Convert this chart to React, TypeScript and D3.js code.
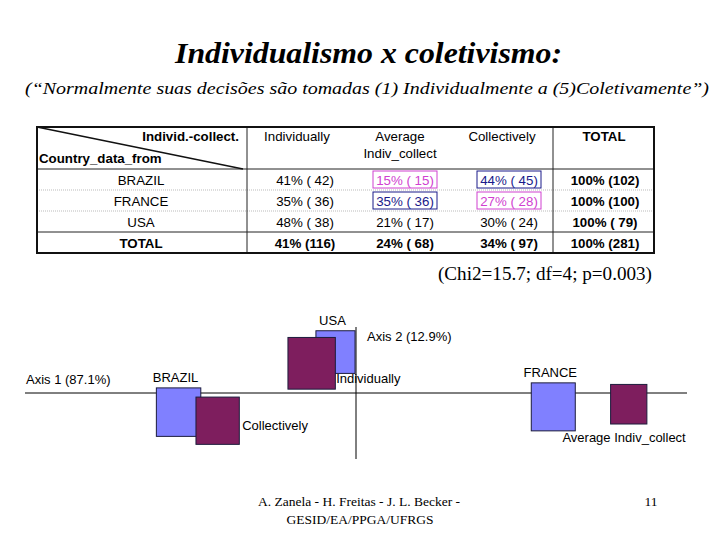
import React from "react";
import * as d3 from "d3";

// ---------- data ----------
const countries = ["BRAZIL", "FRANCE", "USA"];
const categories = ["Individually", "Average Indiv_collect", "Collectively"];
const headerLines = [["Individually"], ["Average", "Indiv_collect"], ["Collectively"]];
const counts = [
  [42, 15, 45],
  [36, 36, 28],
  [38, 17, 24],
];
const percents = [
  [41, 15, 44],
  [35, 35, 27],
  [48, 21, 30],
];
const rowTotals = [102, 100, 79];
const colTotals = [116, 68, 97];
const colTotalPercents = [41, 24, 34];
const grandTotal = 281;
// "over" = blue box, "under" = pink box
const highlights = [
  ["", "under", "over"],
  ["", "over", "under"],
  ["", "", ""],
];
const chiText = "(Chi2=15.7; df=4; p=0.003)";
const axis1Label = "Axis 1 (87.1%)";
const axis2Label = "Axis 2 (12.9%)";

// correspondence analysis coordinates
const rowAxis1 = [-0.268, 0.298, -0.031];
const rowAxis2 = [-0.029, -0.021, 0.062];
const colAxis1 = [-0.067, 0.412, -0.209];
const colAxis2 = [0.045, -0.017, -0.042];

// ---------- styling ----------
const SANS = "'Liberation Sans', Arial, sans-serif";
const SERIF = "'Liberation Serif', 'Times New Roman', serif";
const BLUE = "#8080ff";
const PURPLE = "#7e1e5e";
const EDGE = "#1c1c3c";

const colLabelAnchor = ["start", "end", "start"];
const colLabelDx = [24.5, 57, 24.5];
const colLabelDy = [19.5, 38, 9.5];

function fmt(p: number, n: number) {
  const ns = n < 100 ? ` ${n}` : `${n}`;
  return `${p}% (${ns})`;
}

export default function App() {
  const tLeft = 37, tRight = 654, tTop = 127, hBottom = 169, tBottom = 253;
  const rowBand = d3.scaleBand<string>().domain([...countries, "TOTAL"]).range([hBottom, tBottom]);
  const dataX = [305, 405, 509, 605];
  const headX = [297, 400, 502, 604];
  const div1 = 247, div2 = 553;

  const x = d3.scaleLinear().domain([-0.5, 0.5]).range([25, 687]);
  const y = d3.scaleLinear().domain([-0.1, 0.1]).range([459, 327]);
  const wS = d3.scaleSqrt().domain([0, grandTotal]).range([0, 4.4 * Math.sqrt(grandTotal)]);
  const hS = d3.scaleSqrt().domain([0, grandTotal]).range([0, 4.8 * Math.sqrt(grandTotal)]);

  const rb = (k: string) => rowBand(k) as number;
  const bw = rowBand.bandwidth();

  return (
    <svg width={720} height={540} style={{ position: "absolute", left: 0, top: 0, background: "#fff" }}>
      <rect width={720} height={540} fill="#fff" />
      <text x={175} y={63} fontFamily={SERIF} fontStyle="italic" fontWeight="bold" fontSize={30} textLength={387} lengthAdjust="spacingAndGlyphs">
        Individualismo x coletivismo:
      </text>
      <text x={25} y={94} fontFamily={SERIF} fontStyle="italic" fontSize={17.5} textLength={684} lengthAdjust="spacingAndGlyphs">
        (“Normalmente suas decisões são tomadas (1) Individualmente a (5)Coletivamente”)
      </text>

      <g fontFamily={SANS} fontSize={13.3} fill="#000">
        {countries.slice(1).map((c) => (
          <line key={c} x1={tLeft} x2={tRight} y1={rb(c)} y2={rb(c)} stroke="#bbb" strokeDasharray="1,1" />
        ))}
        <line x1={tLeft} x2={tRight} y1={hBottom} y2={hBottom} stroke="#222" strokeWidth={1} />
        <line x1={tLeft} x2={tRight} y1={rb("TOTAL")} y2={rb("TOTAL")} stroke="#222" strokeWidth={1} />
        <line x1={div1} x2={div1} y1={tTop} y2={tBottom} stroke="#222" strokeWidth={1} />
        <line x1={div2} x2={div2} y1={tTop} y2={tBottom} stroke="#222" strokeWidth={1} />
        <line x1={tLeft} x2={div1 - 4} y1={tTop} y2={hBottom} stroke="#111" strokeWidth={1.5} />
        <rect x={tLeft} y={tTop} width={tRight - tLeft} height={tBottom - tTop} fill="none" stroke="#111" strokeWidth={2} />

        <text x={239} y={141} textAnchor="end" fontWeight="bold">Individ.-collect.</text>
        <text x={39} y={163} fontWeight="bold">Country_data_from</text>
        {headerLines.map((lines, j) =>
          lines.map((l, i) => (
            <text key={j + "-" + i} x={headX[j]} y={141 + i * 17} textAnchor="middle">{l}</text>
          ))
        )}
        <text x={headX[3]} y={141} textAnchor="middle" fontWeight="bold">TOTAL</text>

        {countries.map((c, i) => (
          <g key={c}>
            <text x={141} y={rb(c) + bw / 2 + 5} textAnchor="middle">{c}</text>
            {counts[i].map((n, j) => {
              const h = highlights[i][j];
              const col = h === "over" ? "#1a1a8a" : h === "under" ? "#d040d0" : "#000";
              return (
                <g key={j}>
                  {h && (
                    <rect x={dataX[j] - 32} y={rb(c) + 2} width={64} height={bw - 4} fill="none" stroke={col} strokeWidth={1} />
                  )}
                  <text x={dataX[j]} y={rb(c) + bw / 2 + 5} textAnchor="middle" fill={col}>{fmt(percents[i][j], n)}</text>
                </g>
              );
            })}
            <text x={dataX[3]} y={rb(c) + bw / 2 + 5} textAnchor="middle" fontWeight="bold">{fmt(100, rowTotals[i])}</text>
          </g>
        ))}
        <text x={141} y={rb("TOTAL") + bw / 2 + 5} textAnchor="middle" fontWeight="bold">TOTAL</text>
        {colTotals.map((n, j) => (
          <text key={j} x={dataX[j]} y={rb("TOTAL") + bw / 2 + 5} textAnchor="middle" fontWeight="bold">{fmt(colTotalPercents[j], n)}</text>
        ))}
        <text x={dataX[3]} y={rb("TOTAL") + bw / 2 + 5} textAnchor="middle" fontWeight="bold">{fmt(100, grandTotal)}</text>
      </g>

      <text x={438} y={280} fontFamily={SERIF} fontSize={18} textLength={214} lengthAdjust="spacingAndGlyphs">{chiText}</text>

      <g fontFamily={SANS} fontSize={13}>
        <line x1={x(-0.5)} x2={x(0.5)} y1={y(0)} y2={y(0)} stroke="#000" strokeWidth={1} />
        <line x1={x(0)} x2={x(0)} y1={y(0.1)} y2={y(-0.1)} stroke="#000" strokeWidth={1} />
        <text x={26} y={384}>{axis1Label}</text>
        <text x={367} y={341}>{axis2Label}</text>

        {countries.map((c, i) => {
          const w = wS(rowTotals[i]), h = hS(rowTotals[i]);
          const cx = x(rowAxis1[i]), cy = y(rowAxis2[i]);
          return (
            <g key={c}>
              <rect x={cx - w / 2} y={cy - h / 2} width={w} height={h} fill={BLUE} stroke={EDGE} strokeWidth={1} />
              <text x={cx - 3} y={cy - h / 2 - 5.5} textAnchor="middle">{c}</text>
            </g>
          );
        })}
        {categories.map((c, j) => {
          const w = wS(colTotals[j]), h = hS(colTotals[j]);
          const cx = x(colAxis1[j]), cy = y(colAxis2[j]);
          return (
            <rect key={c} x={cx - w / 2} y={cy - h / 2} width={w} height={h} fill={PURPLE} stroke={EDGE} strokeWidth={1} />
          );
        })}
        {categories.map((c, j) => {
          const cx = x(colAxis1[j]), cy = y(colAxis2[j]);
          return (
            <text key={c} x={cx + colLabelDx[j]} y={cy + colLabelDy[j]} textAnchor={colLabelAnchor[j] as any}>{c}</text>
          );
        })}
      </g>

      <g fontFamily={SERIF} fontSize={13.5}>
        <text x={359} y={506} textAnchor="middle">A. Zanela - H. Freitas - J. L. Becker -</text>
        <text x={360} y={524} textAnchor="middle">GESID/EA/PPGA/UFRGS</text>
        <text x={651} y={506} textAnchor="middle">11</text>
      </g>
    </svg>
  );
}
